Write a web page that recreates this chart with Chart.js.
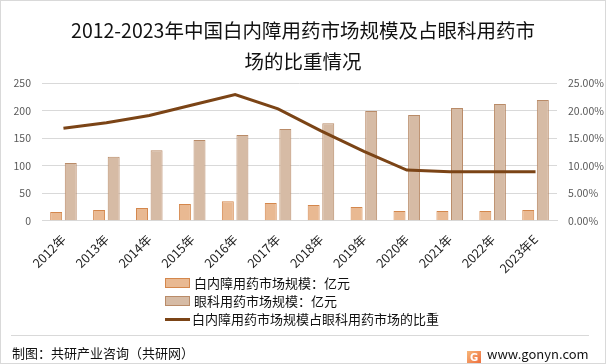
<!DOCTYPE html>
<html>
<head>
<meta charset="utf-8">
<script src="https://cdn.jsdelivr.net/npm/chart.js@4"></script>
<style>
    html, body { margin: 0; padding: 0; background: #fff; }
    #wrap { position: relative; width: 606px; height: 364px; overflow: hidden;
        font-family: "Noto Sans CJK SC", "Noto Sans", sans-serif; }
    #frame { position: absolute; left: 0; top: 0; width: 604px; height: 362px; border: 1px solid #d9d9d9; }
    #chart { position: absolute; left: 0; top: 0; }
    #title { position: absolute; left: 0; top: 14px; width: 606px; text-align: center;
        font-size: 19.5px; line-height: 31px; color: #111; }
    .leg { position: absolute; left: 165px; font-size: 13px; color: #111; height: 16px; line-height: 16px; }
    .leg i { display: inline-block; width: 23px; height: 8px; vertical-align: middle; margin-right: 4px; margin-top: -2px; }
    .leg b { display: inline-block; width: 25px; height: 3px; background: #7b4416; vertical-align: middle; margin-right: 2px; margin-top: -2px; }
    #divider { position: absolute; left: 11px; top: 335px; width: 578px; height: 1px; background: #d9d9d9; }
    #source { position: absolute; left: 12px; top: 343px; font-size: 13px; color: #111; }
    #site { position: absolute; left: 467px; top: 344px; font-size: 13px; color: #111; }
    #site span.logo { display: inline-block; width: 14px; height: 13px; margin-right: 6px; vertical-align: -2px;
        background: linear-gradient(135deg, #f7b77a, #ee6b3a); color: #fff; font: bold 10px/13px "DejaVu Sans"; text-align: center; }
</style>
</head>
<body>
<div id="wrap">
    <canvas id="chart" width="606" height="364"></canvas>
    <div id="title">2012-2023年中国白内障用药市场规模及占眼科用药市<br>场的比重情况</div>
    <div class="leg" style="top:275px"><i style="background:#e9b992;border:1px solid #d4874c"></i>白内障用药市场规模：亿元</div>
    <div class="leg" style="top:293px"><i style="background:#d6bba5;border:1px solid #b98b68"></i>眼科用药市场规模：亿元</div>
    <div class="leg" style="top:311px"><b></b>白内障用药市场规模占眼科用药市场的比重</div>
    <div id="divider"></div>
    <div id="source">制图：共研产业咨询（共研网）</div>
    <div id="site"><span class="logo">G</span>www.gonyn.com</div>
    <div id="frame"></div>
</div>
<script>
const years = ['2012年', '2013年', '2014年', '2015年', '2016年', '2017年', '2018年', '2019年', '2020年', '2021年', '2022年', '2023年E'];
const cataract = [16, 19.5, 23, 30.5, 35.5, 32, 28.5, 25, 17.5, 17.5, 17.5, 19.5];
const ophthalmic = [105, 116, 128, 146.5, 155.5, 166.5, 177, 199, 192, 204.5, 212, 219];
const share = [16.8, 17.8, 19.1, 21.0, 22.9, 20.3, 16.3, 12.6, 9.2, 8.9, 8.9, 8.9];

const tickFont = { family: '"Noto Sans CJK SC", "Noto Sans", sans-serif', size: 10.5 };

const data = {
    labels: years,
    datasets: [{
        type: 'line',
        label: '白内障用药市场规模占眼科用药市场的比重',
        data: share,
        yAxisID: 'y1',
        borderColor: '#7b4416',
        borderWidth: 3,
        pointRadius: 0,
        tension: 0,
        order: 0
    },
        {
            label: '白内障用药市场规模：亿元',
            data: cataract,
            backgroundColor: '#e9b992',
            borderColor: '#d4874c',
            borderWidth: 1,
            categoryPercentage: 0.68,
            barPercentage: 0.82,
            order: 1
        },
        {
            label: '眼科用药市场规模：亿元',
            data: ophthalmic,
            backgroundColor: '#d6bba5',
            borderColor: '#b98b68',
            borderWidth: 1,
            categoryPercentage: 0.68,
            barPercentage: 0.82,
            order: 1
        }]
};

const config = {
    type: 'bar',
    data: data,
    options: {
        responsive: false,
        animation: false,
        layout: { padding: { left: 0, right: 0, top: 83, bottom: 77 } },
        plugins: { legend: { display: false }, tooltip: { enabled: false } },
        scales: {
            x: {
                grid: { display: false, drawTicks: false },
                border: { color: '#d9d9d9' },
                ticks: { color: '#222', font: { family: tickFont.family, size: 12.5 }, minRotation: 45, maxRotation: 45, autoSkip: false, padding: 11 }
            },
            y: {
                min: 0, max: 250,
                afterFit: s => { s.width = 42; },
                ticks: { stepSize: 50, color: '#595959', font: tickFont, padding: 11 },
                grid: { color: '#d9d9d9', drawTicks: false },
                border: { display: false }
            },
            y1: {
                position: 'right',
                min: 0, max: 25,
                afterFit: s => { s.width = 49; },
                ticks: { stepSize: 5, color: '#595959', font: tickFont, padding: 11,
                    callback: v => v.toFixed(2) + '%' },
                grid: { display: false, drawTicks: false },
                border: { display: false }
            }
        }
    }
};

new Chart(document.getElementById('chart'), config);
</script>
</body>
</html>
